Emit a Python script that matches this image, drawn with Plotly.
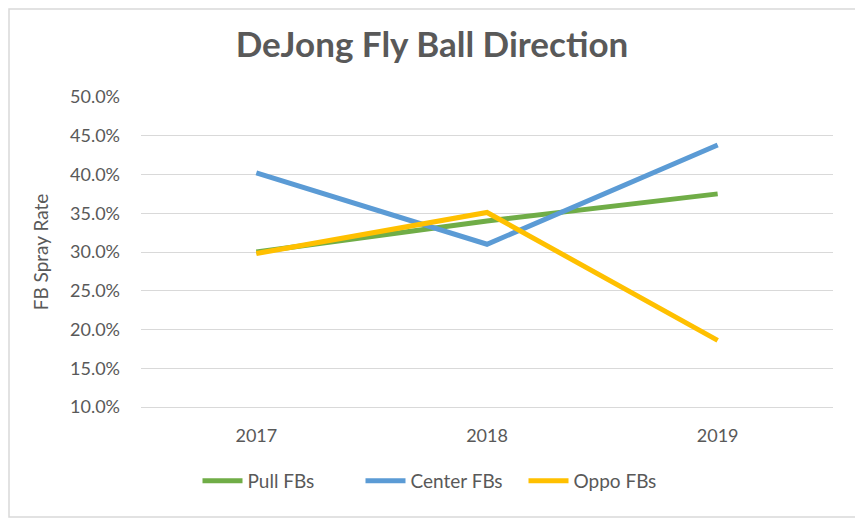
import plotly.graph_objects as go

# data
years = ["2017", "2018", "2019"]
pull_fb = [0.300, 0.340, 0.375]
center_fb = [0.402, 0.310, 0.438]
oppo_fb = [0.298, 0.351, 0.186]

series = [
    ("Pull FBs", pull_fb, "#70AD47"),
    ("Center FBs", center_fb, "#5B9BD5"),
    ("Oppo FBs", oppo_fb, "#FFC000"),
]

grey = "#595959"
font_name = "Lato"

# page body adds an 8px margin, so the figure is a bit smaller
W, H = 855, 514
L, T, PW, PH = 133, 89, 692, 310

fig = go.Figure()
for name, vals, col in series:
    fig.add_trace(
        go.Scatter(
            x=years,
            y=vals,
            name=name,
            mode="lines",
            line=dict(color=col, width=5),
        )
    )

fig.update_layout(
    width=W,
    height=H,
    margin=dict(l=L, r=W - L - PW, t=T, b=H - T - PH),
    paper_bgcolor="white",
    plot_bgcolor="white",
    font=dict(family=font_name, color=grey, size=17),
    title=dict(
        text="<b>DeJong Fly Ball Direction</b>",
        x=424 / W,
        xanchor="center",
        y=1 - 37 / H,
        yanchor="middle",
        font=dict(family=font_name, size=35, color=grey),
    ),
    legend=dict(
        orientation="h",
        x=(434 - L) / PW,
        xanchor="center",
        y=-74 / PH,
        yanchor="middle",
        font=dict(size=19, color=grey),
        itemwidth=40,
        entrywidth=108,
        entrywidthmode="pixels",
        tracegroupgap=0,
    ),
    showlegend=True,
)

fig.update_xaxes(
    type="category",
    range=[-0.5, 2.5],
    showgrid=False,
    showline=True,
    linecolor="#D9D9D9",
    linewidth=1,
    ticks="",
    ticklabelstandoff=12,
    tickfont=dict(size=18, color=grey),
)
fig.update_yaxes(
    range=[0.10, 0.50],
    dtick=0.05,
    tickformat=".1%",
    showgrid=True,
    gridcolor="#D9D9D9",
    gridwidth=1,
    zeroline=False,
    showline=False,
    ticks="",
    ticklabelstandoff=20,
    tickfont=dict(size=18, color=grey),
    title=dict(text="FB Spray Rate", font=dict(size=19, color=grey), standoff=16),
)

# light border round the whole chart
fig.add_shape(
    type="rect",
    xref="paper",
    yref="paper",
    x0=(1 - L) / PW,
    x1=(851 - L) / PW,
    y0=(T + PH - 509) / PH,
    y1=(T + PH - 1) / PH,
    line=dict(color="#D9D9D9", width=1.5),
    layer="below",
)

fig.write_html("out.html")
